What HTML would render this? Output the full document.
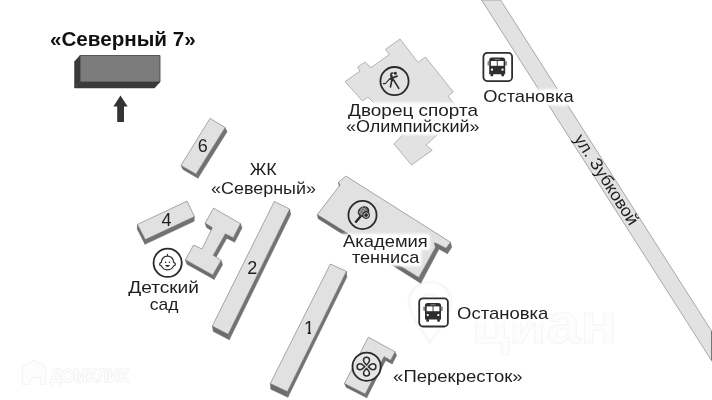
<!DOCTYPE html>
<html lang="ru"><head><meta charset="utf-8"><title>«Северный 7»</title>
<style>
html,body{margin:0;padding:0;background:#fff;}
body{width:712px;height:400px;overflow:hidden;}
svg{display:block;font-family:"Liberation Sans",sans-serif;will-change:transform;filter:grayscale(1);}

</style></head>
<body>
<svg width="712" height="400" viewBox="0 0 712 400">
<rect width="712" height="400" fill="#fff"/>
<defs>
<clipPath id="c1"><path d="M303 318h8v17h-3.4v-5h-4.6z"/></clipPath>
<filter id="soft" filterUnits="userSpaceOnUse" x="0" y="0" width="712" height="400">
<feGaussianBlur stdDeviation="1.1"/>
</filter>
</defs>
<text x="472" y="343" font-size="58" font-weight="bold" textLength="145" lengthAdjust="spacingAndGlyphs" fill="#fdfdfd" stroke="#f6f6f6" stroke-width="1.2">циан</text>
<path d="M430 282c-12 0-21 9-21 20c0 14 21 40 21 40s21-26 21-40c0-11-9-20-21-20zm0 12a8 8 0 1 1 0 16a8 8 0 0 1 0-16z" fill="none" stroke="#f8f8f8" stroke-width="3"/>
<g fill="#fdfdfd" stroke="#ececec" stroke-width="1.2" stroke-linejoin="round" style="paint-order:stroke"><path d="M34 360.5l11.5 6.5v17h-5v-6.5h-7.5l-3.5 3v3.5h-7v-17z" /><text x="50.5" y="381.5" font-size="19" font-weight="bold" textLength="78.5" lengthAdjust="spacingAndGlyphs">ДОМКЛИК</text></g>
<polygon points="481.6,0 500.6,0 712,331.7 712,361.3" fill="#e2e2e2" stroke="#8a8a8a" stroke-width="0.7"/>
<line x1="711.5" y1="331" x2="711.5" y2="360" stroke="#777" stroke-width="1"/>
<polygon points="400,39 418,62.4 425.4,57 453.2,91.8 448.2,96.3 461,112.5 436.2,135.8 426,145.2 432.2,150.2 411.5,165 394,144 402.5,135 375,104 368,97 362.5,101 345,81.6 360,71 357.6,67 365,62 371,67.6 389.4,54.4 385.4,49.4" fill="#e2e2e2" stroke="#9a9a9a" stroke-width="0.7" stroke-linejoin="round"/>
<polygon points="160,82 80,82 74.5,88 154.5,88" fill="#3a3a3a" stroke="#3a3a3a" stroke-width="0.5" stroke-linejoin="round"/>
<polygon points="80,82 80,55.5 74.5,61.5 74.5,88" fill="#3a3a3a" stroke="#3a3a3a" stroke-width="0.5" stroke-linejoin="round"/>
<polygon points="80,55.5 160,55.5 160,82 80,82" fill="#7c7c7c" stroke="#3c3c3c" stroke-width="0.8" stroke-linejoin="round"/>
<polygon points="120.5,95.5 127.6,106.4 124,106.4 124,122 117.2,122 117.2,106.4 113.4,106.4" fill="#333"/>
<polygon points="225.1,127.5 196,174 198,178.2 227.1,131.7" fill="#727272" stroke="#727272" stroke-width="0.5" stroke-linejoin="round"/>
<polygon points="196,174 181,165.4 183,169.6 198,178.2" fill="#6c6c6c" stroke="#6c6c6c" stroke-width="0.5" stroke-linejoin="round"/>
<polygon points="210.1,118.4 225.1,127.5 196,174 181,165.4" fill="#e1e1e1" stroke="#747474" stroke-width="0.6" stroke-linejoin="round"/>
<polygon points="194.4,216.6 145.3,239.6 145,244.3 194.1,221.3" fill="#727272" stroke="#727272" stroke-width="0.5" stroke-linejoin="round"/>
<polygon points="145.3,239.6 137.5,224.4 137.2,229.1 145,244.3" fill="#6c6c6c" stroke="#6c6c6c" stroke-width="0.5" stroke-linejoin="round"/>
<polygon points="187.1,201.1 194.4,216.6 145.3,239.6 137.5,224.4" fill="#e1e1e1" stroke="#747474" stroke-width="0.6" stroke-linejoin="round"/>
<polygon points="240.5,223.6 233.2,237.7 234.7,242.2 242,228.1" fill="#727272" stroke="#727272" stroke-width="0.5" stroke-linejoin="round"/>
<polygon points="233.2,237.7 225.3,233.8 226.8,238.3 234.7,242.2" fill="#6c6c6c" stroke="#6c6c6c" stroke-width="0.5" stroke-linejoin="round"/>
<polygon points="225.3,233.8 213.2,255.2 214.7,259.7 226.8,238.3" fill="#727272" stroke="#727272" stroke-width="0.5" stroke-linejoin="round"/>
<polygon points="221.1,260.3 212.7,274.9 214.2,279.4 222.6,264.8" fill="#727272" stroke="#727272" stroke-width="0.5" stroke-linejoin="round"/>
<polygon points="212.7,274.9 185.4,259.7 186.9,264.2 214.2,279.4" fill="#6c6c6c" stroke="#6c6c6c" stroke-width="0.5" stroke-linejoin="round"/>
<polygon points="212.4,227.6 205.1,223.1 206.6,227.6 213.9,232.1" fill="#6c6c6c" stroke="#6c6c6c" stroke-width="0.5" stroke-linejoin="round"/>
<polygon points="213.5,208.1 240.5,223.6 233.2,237.7 225.3,233.8 213.2,255.2 221.1,260.3 212.7,274.9 185.4,259.7 193.5,245.1 202,249 212.4,227.6 205.1,223.1" fill="#e1e1e1" stroke="#747474" stroke-width="0.6" stroke-linejoin="round"/>
<polygon points="289.6,209.1 228.2,334.2 229.3,339.7 290.7,214.6" fill="#727272" stroke="#727272" stroke-width="0.5" stroke-linejoin="round"/>
<polygon points="228.2,334.2 212.3,326.1 213.4,331.6 229.3,339.7" fill="#6c6c6c" stroke="#6c6c6c" stroke-width="0.5" stroke-linejoin="round"/>
<polygon points="274.3,201.4 289.6,209.1 228.2,334.2 212.3,326.1" fill="#e1e1e1" stroke="#747474" stroke-width="0.6" stroke-linejoin="round"/>
<polygon points="346.4,271.3 287.4,391.6 287.9,397.3 346.9,277" fill="#727272" stroke="#727272" stroke-width="0.5" stroke-linejoin="round"/>
<polygon points="287.4,391.6 270.3,383.5 270.8,389.2 287.9,397.3" fill="#6c6c6c" stroke="#6c6c6c" stroke-width="0.5" stroke-linejoin="round"/>
<polygon points="330.4,264 346.4,271.3 287.4,391.6 270.3,383.5" fill="#e1e1e1" stroke="#747474" stroke-width="0.6" stroke-linejoin="round"/>
<polygon points="395,351.7 390.6,360.2 392.2,364 396.6,355.5" fill="#727272" stroke="#727272" stroke-width="0.5" stroke-linejoin="round"/>
<polygon points="390.6,360.2 384,356.6 385.6,360.4 392.2,364" fill="#6c6c6c" stroke="#6c6c6c" stroke-width="0.5" stroke-linejoin="round"/>
<polygon points="384,356.6 365.2,394 366.8,397.8 385.6,360.4" fill="#727272" stroke="#727272" stroke-width="0.5" stroke-linejoin="round"/>
<polygon points="365.2,394 344.5,383.5 346.1,387.3 366.8,397.8" fill="#6c6c6c" stroke="#6c6c6c" stroke-width="0.5" stroke-linejoin="round"/>
<polygon points="368.3,337.2 395,351.7 390.6,360.2 384,356.6 365.2,394 344.5,383.5" fill="#e1e1e1" stroke="#747474" stroke-width="0.6" stroke-linejoin="round"/>
<polygon points="450.5,242.2 445.9,248.2 447.5,253.7 451.7,247.3" fill="#727272" stroke="#727272" stroke-width="0.5" stroke-linejoin="round"/>
<polygon points="445.9,248.2 437.4,243.8 439,249.1 447.5,253.7" fill="#6c6c6c" stroke="#6c6c6c" stroke-width="0.5" stroke-linejoin="round"/>
<polygon points="437.4,243.8 418.8,277.4 420.8,283.3 439,249.1" fill="#727272" stroke="#727272" stroke-width="0.5" stroke-linejoin="round"/>
<polygon points="418.8,277.4 317.3,214.6 318.2,218.7 420.8,283.3" fill="#6c6c6c" stroke="#6c6c6c" stroke-width="0.5" stroke-linejoin="round"/>
<polygon points="340.1,184.9 338.4,182.3 339.3,186.5 341,189.1" fill="#6c6c6c" stroke="#6c6c6c" stroke-width="0.5" stroke-linejoin="round"/>
<polygon points="345.9,176.1 450.5,242.2 445.9,248.2 437.4,243.8 418.8,277.4 317.3,214.6 340.1,184.9 338.4,182.3" fill="#e1e1e1" stroke="#747474" stroke-width="0.6" stroke-linejoin="round"/>
<polygon points="434,242.2 437.4,243.8 438.6,248.5 435.2,247.4" fill="#6c6c6c"/>
<circle cx="394.5" cy="81.1" r="14.1" fill="none" stroke="#2a2a2a" stroke-width="1.8"/>
<g transform="translate(374,60)" fill="none" stroke="#2a2a2a" stroke-linecap="round" stroke-linejoin="round"><circle cx="21.3" cy="13.2" r="1.5" fill="#2a2a2a" stroke="none"/><path d="M18.7 13c-1.6-0.2-2.2 1.3-1.5 2.8" stroke-width="1.6"/><path d="M17.4 15.6l0.9 4.6" stroke-width="2.3"/><path d="M23 16.2l-6.8 2.6" stroke-width="1.8"/><path d="M17.8 20.3l-1.3 6.6M19.6 19.8l5.2 8.6" stroke-width="1.6"/><path d="M15.8 18.8l-4.6 4.8h-1.9" stroke-width="1.1"/></g>
<circle cx="362.5" cy="215" r="14.1" fill="none" stroke="#2a2a2a" stroke-width="1.8"/>
<g transform="translate(342,195)" fill="none" stroke="#2a2a2a" stroke-linecap="round"><ellipse cx="21.5" cy="16.6" rx="5.3" ry="4.4" transform="rotate(-30 21.5 16.6)" stroke-width="1.4" fill="#6e6e6e"/><path d="M18 13.5l6.5 5.5M17.2 16.5l5 4.5M20.5 12.5l5 4.5M19 20l4.5-7.5M16.8 18.5l4-6" stroke="#c4c4c4" stroke-width="0.5"/><path d="M18.3 21.7l-4.3 5" stroke-width="2.5"/><circle cx="24.1" cy="20.1" r="3.2" fill="#dcdcdc" stroke-width="1.2"/><circle cx="24.1" cy="20.1" r="1.9" fill="#2a2a2a" stroke="none"/></g>
<circle cx="167.65" cy="262.8" r="14.1" fill="#fff" stroke="#2a2a2a" stroke-width="1.8"/>
<g transform="translate(147,243)" fill="none" stroke="#2a2a2a" stroke-linecap="round" stroke-linejoin="round"><path d="M20.5 13.2c-3.5 0-5.8 2.6-6.2 6.2c-1.1 0.3-1.7 1-1.7 1.8c0 0.9 0.7 1.5 1.8 1.7c0.9 2.3 3.2 3.9 6.1 3.9s5.2-1.6 6.1-3.9c1.1-0.2 1.8-0.8 1.8-1.7c0-0.8-0.6-1.5-1.7-1.8c-0.4-3.6-2.7-6.2-6.2-6.2zM20.5 13v-1.6" stroke-width="1.2"/><circle cx="18.6" cy="19.2" r="0.8" fill="#2a2a2a" stroke="none"/><circle cx="22.5" cy="19.2" r="0.8" fill="#2a2a2a" stroke="none"/><path d="M18.3 21.9h4.4c-0.3 1.3-1.1 1.9-2.2 1.9s-1.9-0.6-2.2-1.9z" fill="#2a2a2a" stroke="none"/></g>
<circle cx="366.6" cy="366.7" r="14.1" fill="#e6e6e6" stroke="#2a2a2a" stroke-width="1.8"/>
<g transform="translate(366.5,366.7)" fill="#ececec" stroke="#2a2a2a" stroke-width="1.5" stroke-linejoin="round"><path d="M0 -1.7c-0.7-1.1-3-2.5-3-4.7a3 3 0 0 1 6 0c0 2.2-2.3 3.6-3 4.7z" transform="rotate(0)"/><path d="M0 -1.7c-0.7-1.1-3-2.5-3-4.7a3 3 0 0 1 6 0c0 2.2-2.3 3.6-3 4.7z" transform="rotate(90)"/><path d="M0 -1.7c-0.7-1.1-3-2.5-3-4.7a3 3 0 0 1 6 0c0 2.2-2.3 3.6-3 4.7z" transform="rotate(180)"/><path d="M0 -1.7c-0.7-1.1-3-2.5-3-4.7a3 3 0 0 1 6 0c0 2.2-2.3 3.6-3 4.7z" transform="rotate(270)"/></g>
<g transform="translate(482.5,52)"><rect x="-0.5" y="-0.5" width="31.5" height="31" rx="5" fill="#fff"/><rect x="0.9" y="0.9" width="28.7" height="28.2" rx="3.8" fill="#fff" stroke="#2e2e2e" stroke-width="1.8"/><path d="M9.2 5.5h11a2.5 2.5 0 0 1 2.5 2.5v14.2h-16v-14.2a2.5 2.5 0 0 1 2.5-2.5z" fill="#2e2e2e"/><rect x="8" y="21.5" width="2.7" height="2.8" rx="0.6" fill="#2e2e2e"/><rect x="18.9" y="21.5" width="2.7" height="2.8" rx="0.6" fill="#2e2e2e"/><rect x="5" y="9" width="1.9" height="4.6" rx="0.9" fill="#808080"/><rect x="22.5" y="9" width="1.9" height="4.6" rx="0.9" fill="#808080"/><rect x="8.4" y="9" width="5.9" height="4.8" fill="#fff"/><rect x="15.2" y="9" width="5.9" height="4.8" fill="#fff"/><rect x="12" y="6.9" width="5.4" height="0.9" fill="#8a8a8a"/><circle cx="9.5" cy="17.7" r="1.15" fill="#fff"/><circle cx="20" cy="17.7" r="1.15" fill="#fff"/></g>
<g transform="translate(418.3,297.4)"><rect x="-0.5" y="-0.5" width="31.5" height="31" rx="5" fill="#fff"/><rect x="0.9" y="0.9" width="28.7" height="28.2" rx="3.8" fill="#fff" stroke="#2e2e2e" stroke-width="1.8"/><path d="M9.2 5.5h11a2.5 2.5 0 0 1 2.5 2.5v14.2h-16v-14.2a2.5 2.5 0 0 1 2.5-2.5z" fill="#2e2e2e"/><rect x="8" y="21.5" width="2.7" height="2.8" rx="0.6" fill="#2e2e2e"/><rect x="18.9" y="21.5" width="2.7" height="2.8" rx="0.6" fill="#2e2e2e"/><rect x="5" y="9" width="1.9" height="4.6" rx="0.9" fill="#808080"/><rect x="22.5" y="9" width="1.9" height="4.6" rx="0.9" fill="#808080"/><rect x="8.4" y="9" width="5.9" height="4.8" fill="#fff"/><rect x="15.2" y="9" width="5.9" height="4.8" fill="#fff"/><rect x="12" y="6.9" width="5.4" height="0.9" fill="#8a8a8a"/><circle cx="9.5" cy="17.7" r="1.15" fill="#fff"/><circle cx="20" cy="17.7" r="1.15" fill="#fff"/></g>
<text x="50" y="45.8" font-size="19.5" font-weight="bold" textLength="145.7" lengthAdjust="spacingAndGlyphs" fill="#111">«Северный 7»</text>
<text x="202.8" y="152.2" font-size="18" text-anchor="middle" fill="#1e1e1e">6</text>
<text x="166.4" y="225.7" font-size="18" text-anchor="middle" fill="#1e1e1e">4</text>
<text x="252.3" y="274.1" font-size="18" text-anchor="middle" fill="#1e1e1e">2</text>
<text x="309" y="333.5" font-size="18" text-anchor="middle" fill="#1e1e1e" clip-path="url(#c1)">1</text>
<text x="-52.2" y="0" font-size="17" textLength="104.4" lengthAdjust="spacingAndGlyphs" fill="#1e1e1e" transform="translate(601.7,182.6) rotate(57.4)">ул. Зубковой</text>
<g fill="#fff" filter="url(#soft)">
<rect x="247.5" y="161.5" width="31.4" height="16.3" rx="2"/>
<rect x="208.8" y="180.4" width="109.3" height="16.3" rx="2"/>
<rect x="345.9" y="102.4" width="134.3" height="16.3" rx="2"/>
<rect x="343.8" y="118.8" width="138" height="16.3" rx="2"/>
<rect x="481.1" y="89.2" width="94.7" height="16.3" rx="2"/>
<rect x="340.9" y="233.8" width="89" height="16.3" rx="2"/>
<rect x="349.7" y="249.9" width="71.8" height="16.3" rx="2"/>
<rect x="454.8" y="305.5" width="95.8" height="16.3" rx="2"/>
<rect x="390.9" y="368.9" width="133.9" height="16.3" rx="2"/>
<rect x="126" y="280.1" width="75.2" height="16.3" rx="2"/>
<rect x="147.5" y="296.6" width="33.1" height="16.3" rx="2"/>
</g>
<g>
<text x="249.7" y="174.7" font-size="17" textLength="27" lengthAdjust="spacingAndGlyphs" fill="#1e1e1e">ЖК</text>
<text x="211" y="193.6" font-size="17" textLength="104.9" lengthAdjust="spacingAndGlyphs" fill="#1e1e1e">«Северный»</text>
<text x="348.1" y="115.6" font-size="17" textLength="129.9" lengthAdjust="spacingAndGlyphs" fill="#1e1e1e">Дворец спорта</text>
<text x="346" y="132" font-size="17" textLength="133.6" lengthAdjust="spacingAndGlyphs" fill="#1e1e1e">«Олимпийский»</text>
<text x="483.3" y="102.4" font-size="17" textLength="90.3" lengthAdjust="spacingAndGlyphs" fill="#1e1e1e">Остановка</text>
<text x="343.1" y="247" font-size="17" textLength="84.6" lengthAdjust="spacingAndGlyphs" fill="#1e1e1e">Академия</text>
<text x="351.9" y="263.1" font-size="17" textLength="67.4" lengthAdjust="spacingAndGlyphs" fill="#1e1e1e">тенниса</text>
<text x="457" y="318.7" font-size="17" textLength="91.4" lengthAdjust="spacingAndGlyphs" fill="#1e1e1e">Остановка</text>
<text x="393.1" y="382.1" font-size="17" textLength="129.5" lengthAdjust="spacingAndGlyphs" fill="#1e1e1e">«Перекресток»</text>
<text x="128.2" y="293.3" font-size="17" textLength="70.8" lengthAdjust="spacingAndGlyphs" fill="#1e1e1e">Детский</text>
<text x="149.7" y="309.8" font-size="17" textLength="28.7" lengthAdjust="spacingAndGlyphs" fill="#1e1e1e">сад</text>
</g>
</svg>
</body></html>
